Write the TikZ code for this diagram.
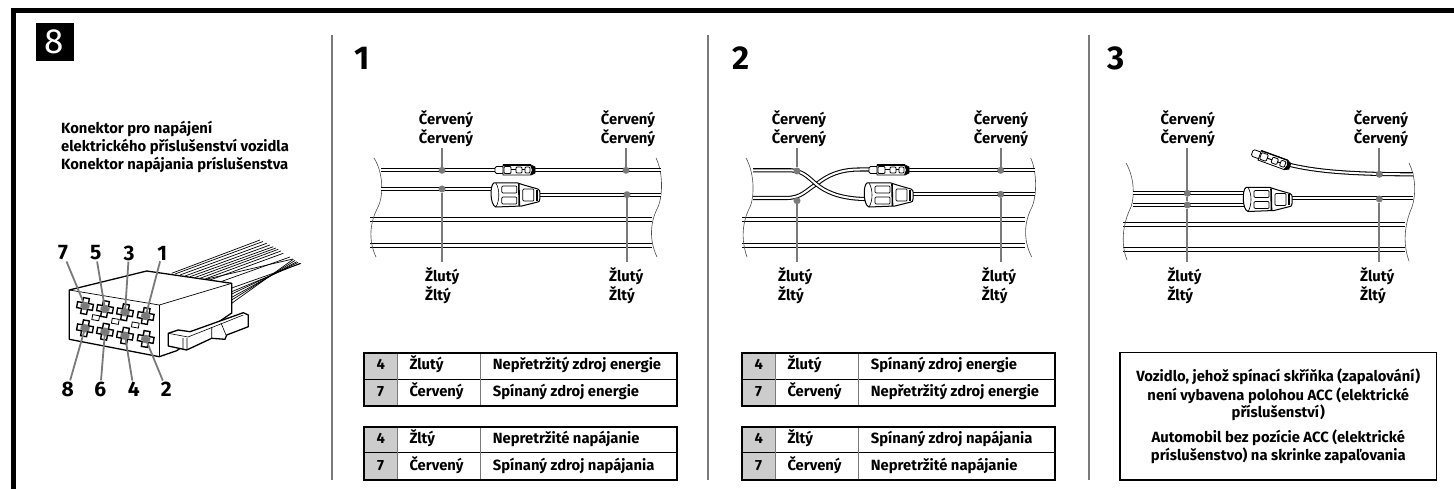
\documentclass[tikz,border=0pt]{standalone}
\usepackage{fontspec}
\setmainfont{Fira Sans}
\usetikzlibrary{positioning}

\definecolor{leadgray}{HTML}{7A7A7A}
\definecolor{cellgray}{HTML}{CCCCCC}

\tikzset{
  lbl/.style={font=\fontsize{14.8}{16}\selectfont\bfseries, inner sep=0pt, text height=10pt, text depth=3pt},
  lblleft/.style={lbl, anchor=west},
  pinlabel/.style={font=\fontsize{21}{22}\selectfont\bfseries, inner sep=1pt},
  bignum/.style={font=\fontsize{33}{34}\selectfont\bfseries, inner sep=0pt},
  leader/.style={leadgray, line width=1.8pt},
  dotmark/.style={circle, fill=leadgray, inner sep=0pt, minimum size=7pt},
  wire/.style={draw=black, double=white, line width=1.05pt, double distance=2pt},
  edgeline/.style={draw=black!70, line width=.6pt},
  plugline/.style={draw=black, line width=.8pt, fill=white},
  tabline/.style={line width=2.2pt},
  smallplug/.pic={
    \draw[plugline, rounded corners=1.5pt] (-20,-3.5) rectangle (-11,3.5);
    \draw[plugline] (-12,-5) -- (16,-5) -- (20,-3) -- (20,3) -- (16,5) -- (-12,5) -- cycle;
    \draw[plugline, rounded corners=1pt] (-11,-3.5) rectangle (-4,3.5);
    \draw[plugline, rounded corners=1pt] (1,-3) rectangle (7,3);
    \draw[plugline, rounded corners=1pt] (10,-3) rectangle (15,3);
    \draw[line width=1pt] (-4,0) -- (1,0) (7,0) -- (10,0);
    \fill (15,-5) -- (20,-3) -- (20,3) -- (15,5) -- (17,0) -- cycle;
    \draw[line width=1.3pt] (-12,-5) -- (16,-5);
  },
  bigplug/.pic={
    \draw[plugline, line width=1pt] (-22,-12) -- (2,-12) -- (8,-10) -- (22,-6)
      .. controls (24,-5) and (24,-4) .. (24,-3) -- (24,4) .. controls (24,6) and (23,7) .. (22,7)
      -- (6,11) -- (-20,12) .. controls (-26,10) and (-26,-10) .. (-22,-12) -- cycle;
    \draw[line width=.6pt] (-20,-12) .. controls (-16,-6) and (-16,6) .. (-20,12);
    \draw[plugline, line width=.7pt, rounded corners=1pt] (-14,-9) rectangle (1,-2);
    \draw[plugline, line width=.7pt, rounded corners=1pt] (-14,2) rectangle (1,9);
    \draw[line width=1.6pt] (3,-11) -- (3.5,11);
    \draw[plugline, line width=.7pt, rounded corners=1pt] (7,-6) rectangle (18,6);
    \draw[line width=1.4pt] (21,-5) -- (21,6);
  },
  pinhole/.pic={
    \draw[draw=black, line width=1.4pt, fill=white] (-3,-8) -- (3,-8) -- (3,-3) -- (8,-3) -- (8,3) -- (3,3)
      -- (3,8) -- (-3,8) -- (-3,3) -- (-8,3) -- (-8,-3) -- (-3,-3) -- cycle;
    \fill[leadgray] (-2.5,-4) rectangle (2.5,4) (-4.5,-2) rectangle (4.5,2);
  },
  slot/.pic={\draw[line width=.8pt, fill=white] (-3.5,-2.5) rectangle (3.5,2.5);}
}

\begin{document}
\begin{tikzpicture}[x=1pt, y=-1pt]
  \useasboundingbox (0,0) rectangle (1454,489);

  % Frame and separators
  \draw[line width=5pt, line cap=butt, line join=miter] (13.5,489) -- (13.5,10.5) -- (1454,10.5);
  \draw[leadgray, line width=1.8pt] (332,35) -- (332,480);
  \draw[leadgray, line width=1.8pt] (708,35) -- (708,480);
  \draw[leadgray, line width=1.8pt] (1089,35) -- (1089,480);
  \node[fill=black, text=white, minimum size=38pt, inner sep=0pt, font=\fontsize{35}{36}\selectfont] (step8) at (54.5,42) {8};

  \node[bignum] (num1) at (362,58) {1};
  \node[bignum] (num2) at (741,58) {2};
  \node[bignum] (num3) at (1116,58) {3};

  % Connector caption
  \node[lblleft] (capa) at (61,130.5) {Konektor pro napájení};
  \node[lblleft] (capb) at (61,148.5) {elektrického příslušenství vozidla};
  \node[lblleft] (capc) at (61,166) {Konektor napájania príslušenstva};

  % Connector wires
  \foreach \xa/\ya/\xb/\yb in {171.7/273.3/260/240, 175/274/263/241.5, 180/275/266.7/243.3, 185/276/270/245, 190/276.7/273.3/246.7,
      195/277.5/276/248, 200/278.3/278.3/249.3, 205/279/281/251, 210/280/283.3/253.3, 220/282/290/257, 207/279/293/259,
      231.7/288/301/263.5, 231.7/291.7/300/263.3, 231.7/294/298/262.5, 231.7/297.3/296.7/261.7, 231.7/300/295/260.5, 231.7/303.3/293.3/259.3}
    \draw[line width=.7pt] (\xa,\ya) -- (\xb,\yb);

  % Connector body
  \draw[line width=1.3pt, fill=white, line join=round] (69.3,290) -- (146.7,271) -- (231.7,283.3) -- (231.7,313)
    -- (176.7,350.7) -- (159.3,356.7) -- (69.3,339.3) -- cycle;
  \draw[line width=.7pt] (69.3,290) -- (159.3,305) -- (231.7,283.3);
  \draw[line width=.7pt] (159.3,305) -- (159.3,356.7);
  \draw[line width=1.3pt, fill=white, line join=round] (168.3,333.3) -- (178.3,330) -- (190,331.7) -- (243.3,312.7)
    -- (248.3,315) -- (248.3,326.7) -- (226.7,335) -- (225,339.3) -- (211.7,338.3) -- (186.7,350) -- (168.3,346) -- cycle;
  \draw[line width=.6pt] (168.3,333.3) -- (188,337) -- (243.3,315);
  \draw[line width=.6pt] (183,338) -- (183,349) (187,338) -- (187,349) (211.7,327) -- (211.7,338.3) (221,323) -- (226,335);

  \foreach \s/\x/\y in {a/95.7/317.7, b/115.3/321.3, c/135.3/325}
    \pic[rotate=-10] (slot\s) at (\x,\y) {slot};

  % Pins and their numbers
  \foreach \n/\x/\y/\lx/\ly in {7/85/306/63/253, 5/105/309/95.7/253, 3/125/312.3/129/253, 1/145.7/316/162.3/253,
      8/85/328.3/67.7/389, 6/105/331.7/100.3/389, 4/125/335.7/133.7/389, 2/145.7/339/166.3/389} {
    \pic[rotate=-10] at (\x,\y) {pinhole};
    \coordinate (pin\n) at (\x,\y);
    \node[pinlabel] (lab\n) at (\lx,\ly) {\n};
    \draw[leader] (lab\n) -- (pin\n);
  }

  % Panel 1
  \foreach \ya in {217,243} {
    \draw[line width=.8pt] (370,\ya) -- (652,\ya);
    \draw[line width=1.7pt] (370,\ya+4.5) -- (652,\ya+4.5);
  }
  \draw[edgeline] (374,158) .. controls (383,172) and (384,195) .. (378,207) .. controls (370,222) and (368,240) .. (376,257);
  \draw[edgeline] (656,158) .. controls (663,172) and (663,195) .. (658,207) .. controls (650,222) and (649,240) .. (657,257);
  \draw[wire] (381,170.3) -- (497,170.3);
  \draw[wire] (533,170.3) -- (661,170.3);
  \draw[wire] (381,189) -- (493,189);
  \draw[wire] (538,194.7) -- (661,194.7);
  \pic at (515,170) {smallplug};
  \pic at (515.8,195) {bigplug};

  \node[dotmark] (ra) at (442,170.3) {};
  \node[dotmark] (ya) at (442,189) {};
  \node[dotmark] (rb) at (626,170.3) {};
  \node[dotmark] (yb) at (627,194.7) {};
  \node[lbl] (ra1) at (446,121.5) {Červený};
  \node[lbl] (ra2) at (446,140) {Červený};
  \node[lbl] (rb1) at (628,121.5) {Červený};
  \node[lbl] (rb2) at (628,140) {Červený};
  \node[lblleft] (ya1) at (425,278) {Žlutý};
  \node[lblleft] (ya2) at (425,296.5) {Žltý};
  \node[lblleft] (yb1) at (609,278) {Žlutý};
  \node[lblleft] (yb2) at (609,296.5) {Žltý};
  \draw[leader] (ra2.south -| ra) ++(0,1) -- (ra);
  \draw[leader] (rb2.south -| rb) ++(0,1) -- (rb);
  \draw[leader] (ya) -- (442,262);
  \draw[leader] (yb) -- (627,262);

  % Panel 2
  \foreach \ya in {217,243} {
    \draw[line width=.8pt] (742,\ya) -- (1025,\ya);
    \draw[line width=1.7pt] (742,\ya+4.5) -- (1025,\ya+4.5);
  }
  \draw[edgeline] (746,158) .. controls (754,172) and (755,195) .. (750,207) .. controls (742,222) and (741,240) .. (747,257);
  \draw[edgeline] (1030.7,158) .. controls (1037,172) and (1037,195) .. (1032,207) .. controls (1024,222) and (1023,240) .. (1031.7,257);
  \draw[wire] (753,198) -- (786,198) .. controls (802,198) and (806,190) .. (816.7,184) .. controls (828,175) and (840,169.5) .. (860,169.5) -- (870,169.5);
  \draw[wire] (753,170.3) -- (791,170.3) .. controls (805,171) and (810,180) .. (820,187) .. controls (830,194) and (845,199) .. (867,199);
  \draw[wire] (908,170.3) -- (1035,170.3);
  \draw[wire] (911,194.3) -- (1035,194.3);
  \pic at (889,170) {smallplug};
  \pic at (889,195) {bigplug};

  \node[dotmark] (rc) at (797,171) {};
  \node[dotmark] (yc) at (797,200.7) {};
  \node[dotmark] (rd) at (1000.7,170.3) {};
  \node[dotmark] (yd) at (1000.7,194.3) {};
  \node[lbl] (rc1) at (799,121.5) {Červený};
  \node[lbl] (rc2) at (799,140) {Červený};
  \node[lbl] (rd1) at (1001,121.5) {Červený};
  \node[lbl] (rd2) at (1001,140) {Červený};
  \node[lblleft] (yc1) at (778,278) {Žlutý};
  \node[lblleft] (yc2) at (778,296.5) {Žltý};
  \node[lblleft] (yd1) at (981.7,278) {Žlutý};
  \node[lblleft] (yd2) at (981.7,296.5) {Žltý};
  \draw[leader] (rc2.south -| rc) ++(0,1) -- (rc);
  \draw[leader] (rd2.south -| rd) ++(0,1) -- (rd);
  \draw[leader] (yc) -- (797,262);
  \draw[leader] (yd) -- (1000.7,262);

  % Panel 3
  \foreach \ya in {222,247} {
    \draw[line width=.8pt] (1123,\ya) -- (1405,\ya);
    \draw[line width=1.7pt] (1123,\ya+4.5) -- (1405,\ya+4.5);
  }
  \draw[edgeline] (1126,163) .. controls (1134,177) and (1135,195) .. (1131,207) .. controls (1122,225) and (1121,245) .. (1127,260);
  \draw[edgeline] (1409,163) .. controls (1416,177) and (1416,195) .. (1412,207) .. controls (1404,225) and (1403,245) .. (1409,261);
  \draw[wire] (1133.3,193.3) -- (1248,193.3);
  \draw[wire] (1133.3,205) -- (1248,205);
  \draw[wire] (1413,198.3) -- (1288,198.3);
  \draw[wire] (1286,164) .. controls (1310,170) and (1340,174.3) .. (1413,174.3);
  \pic[rotate=-20] at (1271,159.5) {smallplug};
  \pic at (1268,199.5) {bigplug};

  \node[dotmark] (re) at (1187.3,193.3) {};
  \node[dotmark] (ye) at (1187.3,205) {};
  \node[dotmark] (rf) at (1379.3,174.3) {};
  \node[dotmark] (yf) at (1379.3,199) {};
  \node[lbl] (re1) at (1187.7,121.5) {Červený};
  \node[lbl] (re2) at (1187.7,140) {Červený};
  \node[lbl] (rf1) at (1381,121.5) {Červený};
  \node[lbl] (rf2) at (1381,140) {Červený};
  \node[lblleft] (ye1) at (1167.3,278) {Žlutý};
  \node[lblleft] (ye2) at (1167.3,296.5) {Žltý};
  \node[lblleft] (yf1) at (1360,278) {Žlutý};
  \node[lblleft] (yf2) at (1360,296.5) {Žltý};
  \draw[leader] (re2.south -| re) ++(0,1) -- (re);
  \draw[leader] (rf2.south -| rf) ++(0,1) -- (rf);
  \draw[leader] (re) -- (ye);
  \draw[leader] (ye) -- (1187.3,262);
  \draw[leader] (yf) -- (1379.3,262);

  % Tables
  \foreach \tx/\tya/\tyb in {0/352.7/379, 0/426.7/452.7, 378/352.7/379, 378/426.7/452.7} {
    \fill[cellgray] (364+\tx,\tya) rectangle (397.3+\tx,\tyb+27);
    \draw[line width=1pt] (364+\tx,\tyb) -- (677.3+\tx,\tyb);
    \draw[leadgray, line width=1.2pt] (397.3+\tx,\tya) -- (397.3+\tx,\tyb+27);
    \draw[leadgray, line width=1.2pt] (480.7+\tx,\tya) -- (480.7+\tx,\tyb+27);
    \draw[tabline] (364+\tx,\tya) rectangle (677.3+\tx,\tyb+27);
  }
  \foreach \tx/\ty/\na/\nb/\nc/\nn in {
      380.7/366/4/Žlutý/Nepřetržitý zdroj energie/ta, 380.7/392.5/7/Červený/Spínaný zdroj energie/tb,
      380.7/440/4/Žltý/Nepretržité napájanie/tc, 380.7/466.5/7/Červený/Spínaný zdroj napájania/td,
      758.7/366/4/Žlutý/Spínaný zdroj energie/te, 758.7/392.5/7/Červený/Nepřetržitý zdroj energie/tf,
      758.7/440/4/Žltý/Spínaný zdroj napájania/tg, 758.7/466.5/7/Červený/Nepretržité napájanie/th} {
    \node[lbl] (\nn a) at (\tx,\ty) {\na};
    \node[lblleft] (\nn b) at (\tx+28.6,\ty) {\nb};
    \node[lblleft] (\nn c) at (\tx+112,\ty) {\nc};
  }

  % Note box
  \draw[line width=1.2pt] (1120,352.7) rectangle (1436.7,480);
  \node[lbl] (notea) at (1278.3,378.3) {Vozidlo, jehož spínací skříňka (zapalování)};
  \node[lbl] (noteb) at (1278.3,396.7) {není vybavena polohou ACC (elektrické};
  \node[lbl] (notec) at (1278.3,414.3) {příslušenství)};
  \node[lbl] (noted) at (1278.3,439) {Automobil bez pozície ACC (elektrické};
  \node[lbl] (notee) at (1278.3,456.7) {príslušenstvo) na skrinke zapaľovania};
\end{tikzpicture}
\end{document}
